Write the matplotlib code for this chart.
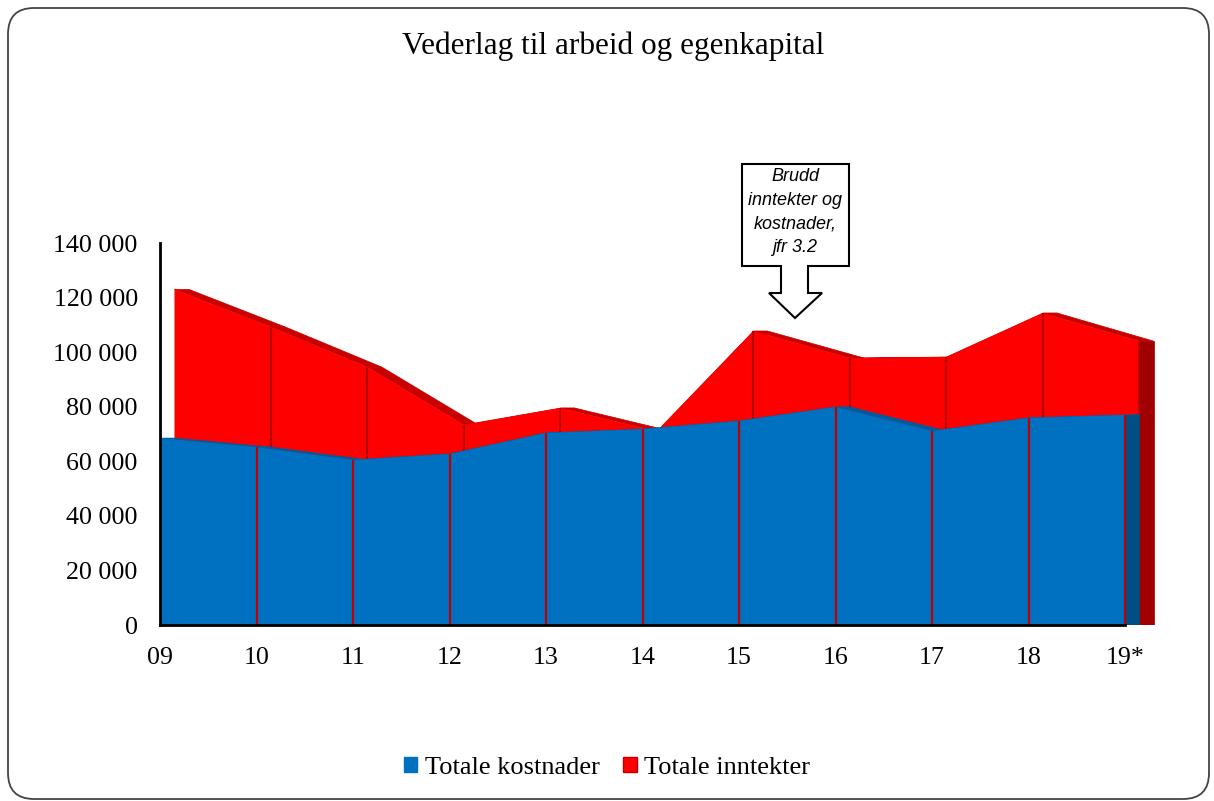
import numpy as np
import matplotlib.pyplot as plt
from matplotlib.patches import Polygon, FancyBboxPatch, Patch
from matplotlib.transforms import IdentityTransform

# Data (NOK 1000)
years = ["09", "10", "11", "12", "13", "14", "15", "16", "17", "18", "19*"]
kostnader = [68500, 65200, 60500, 62700, 70400, 71800, 74800, 79900, 71100, 75900, 77000]
inntekter = [123000, 109200, 94500, 73300, 79500, 71000, 107700, 97800, 98200, 114300, 104000]

W, H = 1214, 801
fig = plt.figure(figsize=(W / 100, H / 100), dpi=100)
ax = fig.add_axes([160 / W, 1 - 625 / H, 1003.6 / W, 382 / H])

serif = "Liberation Serif"
depth = 0.15  # depth offset of the pseudo-3D areas (in category units)


def area3d(ax, x, y, front, top, side, line, z):
    x = np.asarray(x, dtype=float)
    y = np.asarray(y, dtype=float)
    # top faces
    for i in range(len(x) - 1):
        pts = [(x[i], y[i]), (x[i + 1], y[i + 1]),
               (x[i + 1] + depth, y[i + 1]), (x[i] + depth, y[i])]
        ax.add_patch(Polygon(pts, closed=True, fc=top, ec=top, lw=0.5, zorder=z))
    # right side face
    pts = [(x[-1], 0), (x[-1], y[-1]), (x[-1] + depth, y[-1]), (x[-1] + depth, 0)]
    ax.add_patch(Polygon(pts, closed=True, fc=side, ec=side, lw=0.5, zorder=z))
    # front face
    pts = [(x[0], 0)] + list(zip(x, y)) + [(x[-1], 0)]
    ax.add_patch(Polygon(pts, closed=True, fc=front, ec="none", zorder=z + 0.5))
    # vertical grid lines on the front face
    ax.vlines(x[1:], 0, y[1:], colors=line, lw=1.6, zorder=z + 0.6)


xpos = np.arange(len(years))
area3d(ax, xpos + depth, inntekter, "#FF0000", "#C80000", "#A00000", "#B80000", 1)
area3d(ax, xpos, kostnader, "#0070C0", "#005A9C", "#004F84", "#C00000", 3)

ax.set_xlim(0, 10.4)
ax.set_ylim(0, 140000)

for s in ["top", "right"]:
    ax.spines[s].set_visible(False)
ax.spines["left"].set_linewidth(2)
ax.spines["bottom"].set_linewidth(2)
ax.spines["bottom"].set_bounds(0, 10)
ax.spines["left"].set_zorder(6)
ax.spines["bottom"].set_zorder(6)

yt = np.arange(0, 140001, 20000)
ax.set_yticks(yt)
ax.set_yticklabels([f"{v:,}".replace(",", " ") for v in yt], fontfamily=serif, fontsize=18.7)
ax.set_xticks(xpos)
ax.set_xticklabels(years, fontfamily=serif, fontsize=18.7)
ax.tick_params(axis="y", length=0, pad=16)
ax.tick_params(axis="x", length=0, pad=16)

# Title
fig.text(613 / W, 1 - 46 / H, "Vederlag til arbeid og egenkapital",
         ha="center", va="center", fontfamily=serif, fontsize=22.5)

# Callout with down arrow
px = [(742, 164), (849, 164), (849, 266), (808, 266), (808, 293), (822, 293),
      (795, 318), (769, 293), (781, 293), (781, 266), (742, 266)]
callout = Polygon([(a / W, 1 - b / H) for a, b in px], closed=True,
                  transform=fig.transFigure, fc="white", ec="black", lw=1.5, zorder=10)
fig.add_artist(callout)
fig.text(795 / W, 1 - 212 / H, "Brudd\ninntekter og\nkostnader,\njfr 3.2",
         ha="center", va="center", fontfamily="Liberation Sans", style="italic",
         fontsize=13, linespacing=1.5, zorder=11)

# Legend
handles = [Patch(fc="#0070C0", ec="#0070C0"), Patch(fc="#FF0000", ec="#C00000")]
fig.legend(handles, ["Totale kostnader", "Totale inntekter"], loc="center",
           bbox_to_anchor=(0.5, 1 - 768 / H), ncol=2, frameon=False,
           prop={"family": serif, "size": 19}, handlelength=0.5, handleheight=0.5,
           handletextpad=0.3, columnspacing=0.9)

# Rounded frame around the chart
frame = FancyBboxPatch((8, 2), 1201, 791, boxstyle="round,pad=0,rounding_size=26",
                       transform=IdentityTransform(), fill=False, ec="#444444", lw=1.3)
fig.add_artist(frame)

fig.savefig("out.png", dpi=100)
